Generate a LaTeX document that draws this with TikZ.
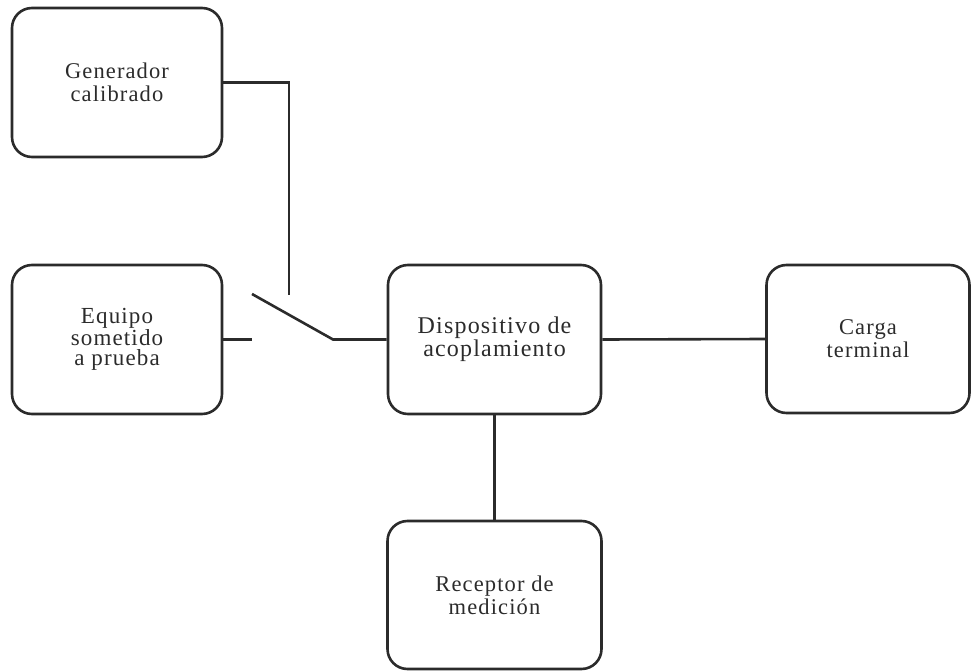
\documentclass[tikz,border=0pt]{standalone}
\usepackage{fontspec}
\setmainfont{Liberation Serif}[LetterSpace=5]
\definecolor{ink}{HTML}{2B2B2B}
\begin{document}
\begin{tikzpicture}[x=1pt,y=-1pt,
  blk/.style={draw=ink, line width=2.6pt, rounded corners=20pt, align=center,
    text=ink, font=\fontsize{22.5}{23}\selectfont, inner sep=0pt},
  wire/.style={draw=ink, line width=2.6pt}]
\useasboundingbox (0,0) rectangle (971,671);
\node[blk, minimum width=210pt, minimum height=149pt] (G) at (117,82.5) {Generador\\calibrado};
\node[blk, minimum width=210pt, minimum height=149pt, font=\fontsize{23}{20.5}\selectfont] (E) at (117,339.5) {Equipo\\sometido\\a prueba};
\node[blk, minimum width=213pt, minimum height=149pt, font=\fontsize{24}{23}\selectfont] (D) at (494.5,339.5) {Dispositivo de\\acoplamiento};
\node[blk, minimum width=203pt, minimum height=148pt] (C) at (868,339) {Carga\\terminal};
\node[blk, minimum width=214pt, minimum height=148pt] (R) at (494.5,595) {Receptor de\\medición};
\coordinate (gend) at (289,295);
\coordinate (sw1) at (252,339.5);
\coordinate (swA) at (252,294);
\coordinate (swB) at (333,339.5);
\draw[wire] (G.east) -| (gend);
\draw[wire] (E.east) -- (sw1);
\draw[wire] (swA) -- (swB) -- (D.west);
\draw[wire] (D.east) -- (C.west);
\draw[wire] (D.south) -- (R.north);
\end{tikzpicture}
\end{document}
